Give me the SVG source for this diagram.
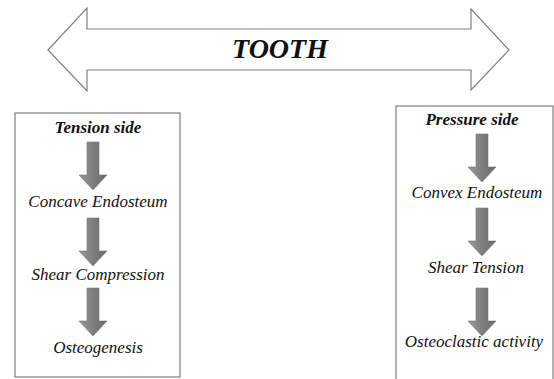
<svg xmlns="http://www.w3.org/2000/svg" width="554" height="379" viewBox="0 0 554 379">
<style>
.t{font-family:"Liberation Serif","DejaVu Serif",serif;font-style:italic;fill:#111;text-anchor:middle}
.lbl{font-size:17px}
.hd{font-size:17px;font-weight:bold}
.box{fill:#fff;stroke:#7f7f7f;stroke-width:1.2}
.blk{fill:url(#g);stroke:#777;stroke-width:0.6}
</style>
<defs>
<linearGradient id="g" x1="0" y1="0" x2="1" y2="0">
<stop offset="0" stop-color="#9a9a9a"/>
<stop offset="0.5" stop-color="#7e7e7e"/>
<stop offset="1" stop-color="#6a6a6a"/>
</linearGradient>
<path id="dn" d="M-6,0 H6 V33 H14 L0,48 L-14,33 H-6 Z"/>
</defs>
<rect width="554" height="379" fill="#fff"/>
<g id="tooth">
<polygon points="48,50 87,8 87,29 471,29 471,9 509,50 471,90 471,70 87,70 87,91" fill="#fff" stroke="#808080" stroke-width="1.2"/>
<text class="t" x="280" y="58" font-size="28" font-weight="bold">TOOTH</text>
</g>
<g id="tension-box"><rect class="box" x="15" y="113" width="165" height="264"/></g>
<g id="pressure-box"><rect class="box" x="396" y="106" width="157" height="280"/></g>
<g id="tension-side"><text class="t hd" x="98" y="133">Tension side</text></g>
<g id="concave-endosteum"><text class="t lbl" x="98" y="207">Concave Endosteum</text></g>
<g id="shear-compression"><text class="t lbl" x="98" y="280">Shear Compression</text></g>
<g id="osteogenesis"><text class="t lbl" x="98" y="353">Osteogenesis</text></g>
<g id="pressure-side"><text class="t hd" x="472" y="125">Pressure side</text></g>
<g id="convex-endosteum"><text class="t lbl" x="477" y="198">Convex Endosteum</text></g>
<g id="shear-tension"><text class="t lbl" x="476" y="273">Shear Tension</text></g>
<g id="osteoclastic-activity"><text class="t lbl" x="474" y="347">Osteoclastic activity</text></g>
<g id="connectors">
<use href="#dn" class="blk" x="93" y="142"/>
<use href="#dn" class="blk" x="93" y="218"/>
<use href="#dn" class="blk" x="93" y="288"/>
<use href="#dn" class="blk" x="482" y="134"/>
<use href="#dn" class="blk" x="482" y="208"/>
<use href="#dn" class="blk" x="482" y="288"/>
</g>
</svg>
